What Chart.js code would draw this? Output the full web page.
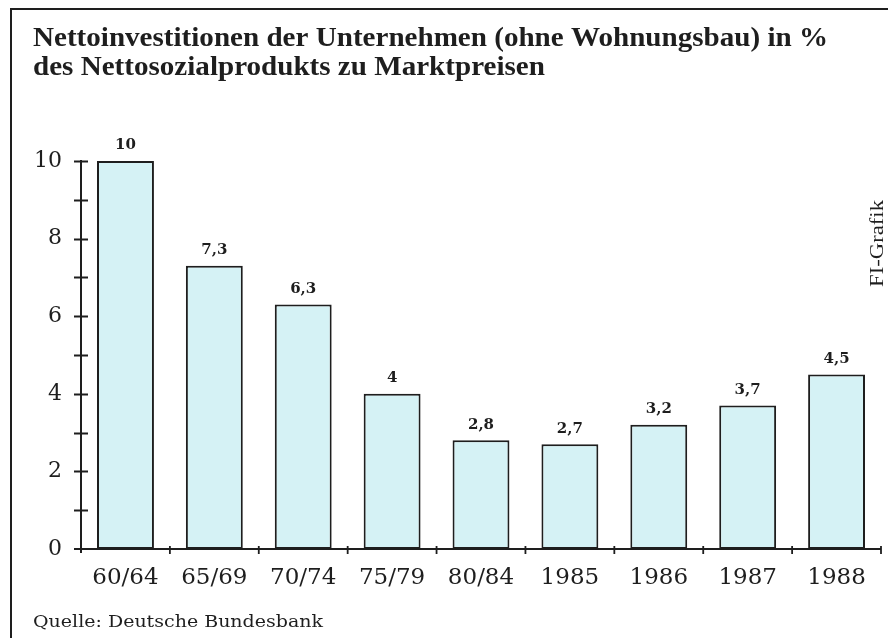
<!DOCTYPE html>
<html>
<head>
<meta charset="utf-8">
<script src="https://cdn.jsdelivr.net/npm/chart.js@4.4.1/dist/chart.umd.min.js"></script>
<style>
html,body{margin:0;padding:0;background:#fff;}
#wrap{position:relative;width:888px;height:638px;}
</style>
</head>
<body>
<div id="wrap"><canvas id="c" width="888" height="638"></canvas></div>
<script>
const categories = ["60/64","65/69","70/74","75/79","80/84","1985","1986","1987","1988"];
const values = [10, 7.3, 6.3, 4, 2.8, 2.7, 3.2, 3.7, 4.5];
const yTickValues = [0, 2, 4, 6, 8, 10];
const titleLines = ["Nettoinvestitionen der Unternehmen (ohne Wohnungsbau) in %", "des Nettosozialprodukts zu Marktpreisen"];
const sourceText = "Quelle: Deutsche Bundesbank";
const creditText = "FI-Grafik";

const ink = "#1e1e1e";

function fitScale(ctx, text, font, width) {
  ctx.save();
  ctx.font = font;
  const s = width / ctx.measureText(text).width;
  ctx.restore();
  return s;
}
function drawScaled(ctx, text, x, y, font, s) {
  ctx.save();
  ctx.font = font;
  ctx.translate(x, y);
  ctx.scale(s, 1);
  ctx.fillText(text, 0, 0);
  ctx.restore();
}

const decor = {
  id: 'decor',
  afterDraw(chart) {
    const ctx = chart.ctx;
    const xs = chart.scales.x, ys = chart.scales.y;
    ctx.save();
    ctx.fillStyle = ink;
    ctx.strokeStyle = ink;
    // frame
    ctx.lineWidth = 2;
    ctx.beginPath();
    ctx.moveTo(11, 638); ctx.lineTo(11, 9); ctx.lineTo(888, 9);
    ctx.stroke();
    // title
    ctx.textBaseline = 'alphabetic';
    ctx.textAlign = 'left';
    const tf = "bold 27px 'Liberation Serif'";
    const ts = fitScale(ctx, titleLines[0], tf, 795);
    drawScaled(ctx, titleLines[0], 33, 46, tf, ts);
    drawScaled(ctx, titleLines[1], 33, 75, tf, ts);
    // source
    const sf = "17px 'DejaVu Serif'";
    drawScaled(ctx, sourceText, 33, 627, sf, fitScale(ctx, sourceText, sf, 290));
    // credit rotated
    ctx.save();
    ctx.translate(883, 287);
    ctx.rotate(-Math.PI / 2);
    const cf = "19px 'Liberation Serif'";
    drawScaled(ctx, creditText, 0, 0, cf, fitScale(ctx, creditText, cf, 87));
    ctx.restore();
    // axes
    const x0 = xs.left, y0 = ys.getPixelForValue(0);
    ctx.lineWidth = 2;
    ctx.beginPath();
    ctx.moveTo(x0, ys.getPixelForValue(10) - 1); ctx.lineTo(x0, y0 + 4);
    ctx.moveTo(x0 - 7, y0); ctx.lineTo(xs.right, y0);
    ctx.stroke();
    // y ticks (major and minor), crossing axis
    ctx.lineWidth = 1.8;
    ctx.beginPath();
    for (let v = 1; v <= 10; v++) {
      const py = Math.round(ys.getPixelForValue(v)) + 0.5;
      ctx.moveTo(x0 - 7, py); ctx.lineTo(x0 + 7, py);
    }
    ctx.stroke();
    // x ticks at category boundaries
    const step = xs.getPixelForValue(1) - xs.getPixelForValue(0);
    ctx.beginPath();
    for (let i = 0; i < categories.length; i++) {
      const px = xs.getPixelForValue(i) + step / 2;
      ctx.moveTo(px, y0 - 3); ctx.lineTo(px, y0 + 5);
    }
    ctx.stroke();
    // value labels
    ctx.font = "bold 15px 'DejaVu Serif'";
    ctx.textAlign = 'center';
    ctx.textBaseline = 'bottom';
    const meta = chart.getDatasetMeta(0);
    meta.data.forEach((bar, i) => {
      ctx.fillText(String(values[i]).replace('.', ','), bar.x, bar.y - 8);
    });
    ctx.restore();
  }
};

new Chart(document.getElementById('c'), {
  type: 'bar',
  data: {
    labels: categories,
    datasets: [{
      data: values,
      backgroundColor: '#d5f2f5',
      borderColor: '#1e1e1e',
      borderWidth: 2,
      borderSkipped: false,
      barPercentage: 0.64,
      categoryPercentage: 1.0
    }]
  },
  options: {
    responsive: false,
    animation: false,
    devicePixelRatio: 1,
    layout: { padding: { top: 161, right: 7, left: 0, bottom: 0 } },
    plugins: { legend: { display: false }, tooltip: { enabled: false }, title: { display: false } },
    scales: {
      x: {
        offset: true,
        grid: { display: false, drawTicks: false },
        border: { display: false },
        ticks: { color: ink, font: { family: "'DejaVu Serif'", size: 23 }, padding: 15, maxRotation: 0, autoSkip: false },
        afterFit(scale) { scale.height = 89; }
      },
      y: {
        min: 0, max: 10,
        grid: { display: false, drawTicks: false },
        border: { display: false },
        ticks: {
          stepSize: 2,
          color: ink,
          font: { family: "'DejaVu Serif'", size: 22 },
          padding: 19
        },
        afterFit(scale) { scale.width = 81; }
      }
    }
  },
  plugins: [decor]
});
</script>
</body>
</html>
